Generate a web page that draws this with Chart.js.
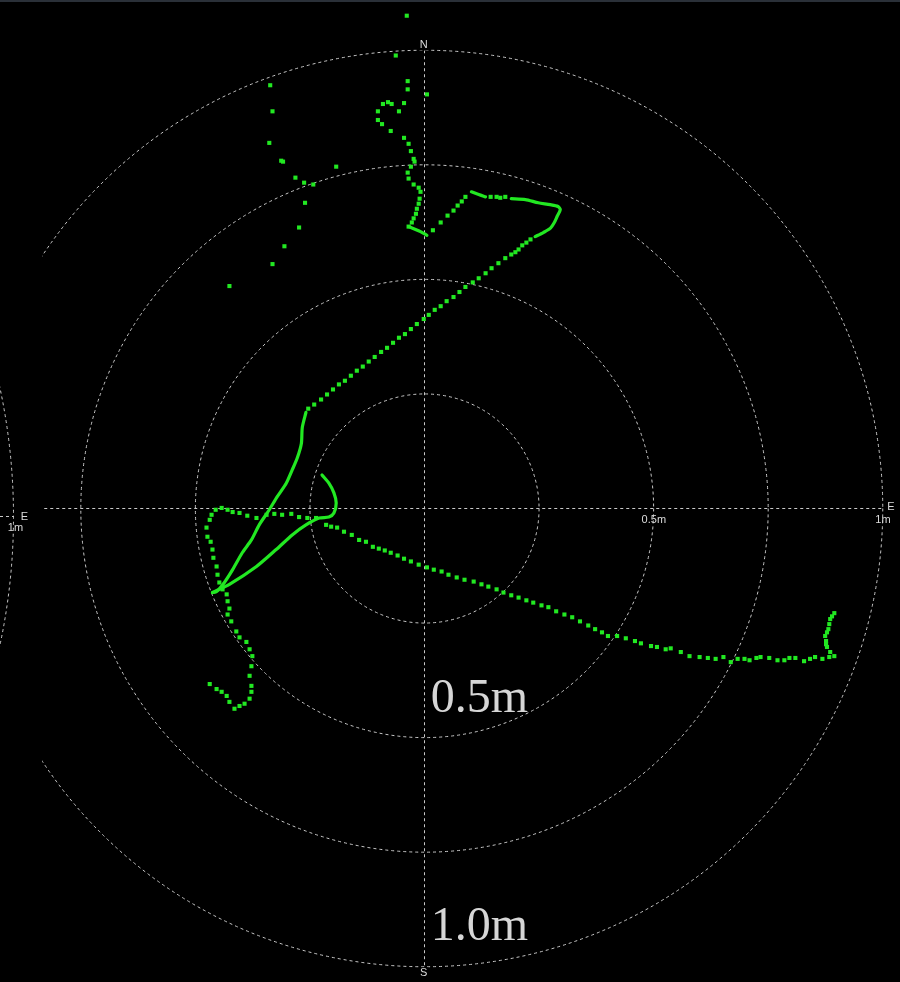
<!DOCTYPE html>
<html>
<head>
<meta charset="utf-8">
<script src="https://cdn.jsdelivr.net/npm/chart.js@4/dist/chart.umd.min.js"></script>
<style>
  html, body { margin: 0; padding: 0; background: #000; overflow: hidden; }
  canvas { display: block; }
</style>
</head>
<body>
<canvas id="radar" width="900" height="982"></canvas>
<script>
// Positions in centimetres: x = east offset, y = north offset from the antenna.

// Range rings (cm) and their labels
const ringRadii = [25, 50, 75, 100];
const axisTickValues = [50, 100];
const axisTickLabels = ['0.5m', '1m'];
const ringCaptionValues = [50, 100];
const ringCaptions = ['0.5m', '1.0m'];
const compassLabels = { north: 'N', south: 'S', east: 'E' };

// Isolated fixes scattered north-west
const strayFixes = [
  [-3.7, 107.6], [-6.1, 98.9], [0.7, 90.4], [-33.5, 92.4], [-33.0, 86.7],
  [-33.7, 79.8], [-31.1, 75.9], [-30.7, 75.7], [-28.0, 72.2], [-26.1, 71.1],
  [-24.1, 70.7], [-19.1, 74.6], [-25.9, 66.7], [-27.2, 61.3], [-30.4, 57.2],
  [-33.0, 53.3], [-42.4, 48.5]
];

// Northern wander along the N axis
const northLeg = [
  [-3.5, 93.3], [-3.5, 91.5], [-8.9, 88.3], [-7.8, 88.7], [-7.0, 88.3], [-4.3, 88.5],
  [-10.0, 86.7], [-5.4, 86.7], [-10.0, 84.8], [-9.1, 83.9], [-7.2, 82.4], [-4.3, 80.9],
  [-3.3, 79.6], [-2.8, 78.0], [-2.2, 76.3], [-2.0, 75.7], [-2.8, 74.6], [-3.5, 73.3],
  [-3.3, 72.0], [-2.2, 70.7], [-1.1, 70.0], [-0.7, 69.1], [-0.9, 67.6], [-1.1, 66.5],
  [-1.5, 65.4], [-1.7, 64.3], [-2.2, 63.3], [-2.6, 62.4], [-3.3, 61.5],
  [2.0, 60.7], [3.7, 62.4], [5.2, 63.9], [6.5, 65.0], [7.4, 66.1], [8.3, 67.0], [9.1, 68.0],
  [14.6, 68.0], [15.9, 68.0], [16.7, 67.8], [17.8, 68.0]
];

// Return leg from the north-east loop, heading south-west
const diagonalLeg = [
  [23.3, 58.7], [22.4, 58.0], [21.5, 57.4], [20.7, 56.5], [20.0, 55.9], [19.1, 55.4],
  [17.8, 54.6], [16.3, 53.5], [14.8, 52.4], [13.5, 51.3], [12.0, 50.2], [10.7, 49.3],
  [9.1, 48.3], [7.8, 47.2], [6.5, 46.1], [5.0, 45.2], [3.7, 44.1], [2.4, 43.3],
  [1.1, 42.2], [0.0, 41.3], [-1.5, 40.2], [-2.8, 39.1], [-4.1, 38.0], [-5.4, 37.2],
  [-6.7, 36.1], [-8.0, 35.0], [-9.3, 34.1], [-10.7, 33.0], [-12.0, 32.0], [-13.3, 30.9],
  [-14.6, 30.0], [-15.9, 28.9], [-17.2, 27.8], [-18.5, 27.0], [-19.8, 25.9], [-21.1, 24.8],
  [-22.4, 23.7], [-23.9, 22.6], [-25.2, 21.7]
];

// Western loop
const loopLeg = [
  [-45.4, -0.4], [-44.1, 0.0], [-42.8, -0.4], [-41.7, -0.9], [-40.2, -1.1], [-38.5, -1.7],
  [-36.5, -2.2], [-34.3, -1.5], [-32.6, -1.3], [-30.9, -1.5], [-28.9, -1.3], [-27.2, -2.0],
  [-25.4, -2.2], [-23.5, -2.2], [-21.3, -3.7], [-20.2, -4.1], [-18.9, -4.3], [-17.4, -5.2],
  [-15.7, -5.9], [-14.1, -7.0], [-12.6, -7.4],
  [-46.3, -1.5], [-46.7, -2.6], [-47.4, -4.3], [-47.2, -6.3], [-46.5, -7.4], [-46.1, -9.1],
  [-45.9, -10.9], [-45.2, -12.8], [-45.0, -14.6], [-44.6, -16.3], [-43.9, -17.8], [-43.0, -18.9]
];

// South-western tail
const southWestTail = [
  [-42.8, -20.4], [-42.4, -22.0], [-42.8, -23.3], [-42.0, -24.8], [-40.9, -27.0], [-40.2, -28.3],
  [-38.7, -29.3], [-38.0, -30.9], [-37.4, -32.4], [-37.6, -34.6], [-38.0, -36.7], [-37.6, -38.9],
  [-37.6, -40.2], [-38.0, -41.7], [-39.1, -42.8], [-40.2, -43.3], [-41.3, -43.9], [-42.4, -42.4],
  [-43.0, -41.1], [-44.1, -40.2], [-45.2, -39.6], [-46.7, -38.5]
];

// Long trail to the south-east
const eastTrail = [
  [-11.1, -8.5], [-9.8, -8.9], [-8.5, -9.3], [-7.2, -9.8], [-5.7, -10.4], [-4.3, -11.1],
  [-2.8, -11.7], [-1.1, -12.4], [0.7, -13.0], [2.2, -13.5], [3.9, -13.9], [5.4, -14.6],
  [7.2, -15.2], [8.9, -15.7], [10.9, -16.1], [12.6, -16.7], [14.1, -17.2], [15.9, -17.8],
  [17.4, -18.5], [19.1, -19.1], [20.7, -19.6], [22.4, -20.2], [23.9, -20.7], [25.7, -21.3],
  [27.2, -21.7], [28.9, -22.6], [30.7, -23.3], [32.4, -23.9], [34.1, -24.8], [35.9, -25.7],
  [37.4, -26.5], [38.9, -27.2], [40.2, -28.0], [42.2, -28.0], [44.1, -28.5], [46.1, -29.1],
  [47.4, -29.6], [49.6, -30.2], [50.9, -30.4], [52.8, -30.9], [53.9, -30.7], [56.1, -31.5],
  [58.0, -32.4], [60.2, -32.6], [62.0, -32.8], [63.7, -33.0], [65.4, -32.6], [67.0, -33.7],
  [68.5, -33.0], [70.0, -33.0], [71.1, -33.3], [72.6, -32.8], [73.5, -32.6], [75.4, -32.8],
  [77.2, -33.3], [78.7, -33.3], [79.8, -32.8], [81.1, -32.8], [83.0, -33.5], [84.3, -33.0],
  [85.4, -32.6], [87.0, -33.0], [88.5, -32.6], [89.6, -32.4], [88.7, -31.5], [88.0, -30.4],
  [87.8, -29.8], [87.8, -29.1], [87.6, -28.0], [88.0, -27.2], [88.3, -26.5], [88.5, -25.4],
  [88.7, -24.3], [89.1, -23.7], [89.6, -23.0]
];

// Densely sampled stretches, drawn as continuous strokes
const northHook = [[-3.3, 61.5], [-0.7, 60.4], [0.7, 59.6]];
const northEastTop = [[10.4, 69.1], [12.0, 68.5], [13.5, 68.0]];
const northEastLoop = [
  [19.1, 67.6], [22.2, 67.4], [25.0, 66.7], [27.6, 66.3], [29.3, 65.9], [29.8, 65.2],
  [29.1, 63.7], [28.5, 62.4], [27.6, 61.1], [26.1, 60.2], [24.3, 59.3]
];
const westCurve = [
  [-25.7, 20.9], [-26.5, 17.6], [-26.7, 14.1], [-27.6, 10.9], [-28.7, 8.3], [-30.0, 5.4],
  [-32.0, 2.4], [-33.7, -0.4], [-35.9, -3.7], [-37.6, -7.0], [-39.6, -9.8], [-41.7, -13.5],
  [-43.5, -16.3], [-45.2, -18.3], [-46.1, -18.5]
];
const returnStroke = [
  [-46.1, -18.5], [-42.4, -16.7], [-36.5, -12.8], [-32.2, -9.1], [-28.7, -5.9], [-25.7, -3.7],
  [-22.8, -2.2], [-20.7, -2.0], [-19.6, -1.1], [-19.1, 1.1], [-19.6, 3.3], [-20.7, 5.4], [-22.2, 7.2]
];

// Visible window (cm)
const view = { xMin: -83.3, xMax: 103.3, yMin: -103.0, yMax: 110.4 };

const TRACK_GREEN = 'rgb(34,232,34)';
const GRID_GREY = '#c9c9c9';
const LABEL_GREY = '#dcdcdc';

const toPoints = arr => arr.map(([x, y]) => ({ x, y }));

const dotSet = (label, arr) => ({
  label, data: toPoints(arr), showLine: false,
  pointStyle: 'rect', pointRadius: 2.9, pointHoverRadius: 2.9,
  backgroundColor: TRACK_GREEN, borderColor: TRACK_GREEN, borderWidth: 0
});
const strokeSet = (label, arr) => ({
  label, data: toPoints(arr), showLine: true, tension: 0.25,
  borderColor: TRACK_GREEN, borderWidth: 3.2, pointRadius: 0,
  borderCapStyle: 'round', borderJoinStyle: 'round'
});

const radarGrid = {
  id: 'radarGrid',
  beforeDraw(chart) {
    const { ctx, width, height } = chart;
    ctx.save();
    ctx.fillStyle = '#000';
    ctx.fillRect(0, 0, width, height);
    ctx.fillStyle = '#2a3038';
    ctx.fillRect(0, 0, width, 2);
    ctx.restore();
  },
  beforeDatasetsDraw(chart) {
    const { ctx, chartArea: a, scales: { x, y } } = chart;
    const cx = Math.round(x.getPixelForValue(0)) + 0.5;
    const cy = Math.round(y.getPixelForValue(0)) + 0.5;
    const k = x.getPixelForValue(1) - x.getPixelForValue(0);
    const outer = ringRadii[ringRadii.length - 1] * k;
    ctx.save();
    ctx.beginPath();
    ctx.rect(a.left, a.top, a.right - a.left, a.bottom - a.top);
    ctx.clip();
    ctx.strokeStyle = GRID_GREY;
    ctx.lineWidth = 1;
    ctx.setLineDash([3, 3]);
    ringRadii.forEach(r => {
      ctx.beginPath();
      ctx.arc(cx, cy, r * k, 0, Math.PI * 2);
      ctx.stroke();
    });
    ctx.beginPath();
    ctx.moveTo(cx - outer, cy); ctx.lineTo(cx + outer, cy);
    ctx.moveTo(cx, cy - outer); ctx.lineTo(cx, cy + outer);
    ctx.stroke();
    ctx.restore();

    // edge of the neighbouring display to the west
    ctx.save();
    ctx.beginPath();
    ctx.rect(0, 0, a.left - 1, chart.height);
    ctx.clip();
    ctx.strokeStyle = GRID_GREY;
    ctx.lineWidth = 1;
    ctx.setLineDash([3, 3]);
    const nRight = 13.5, nY = cy + 8, nR = 617;
    ctx.beginPath();
    ctx.arc(nRight - nR, nY, nR, -0.4, 0.4);
    ctx.stroke();
    ctx.beginPath();
    ctx.moveTo(0, nY); ctx.lineTo(nRight, nY);
    ctx.stroke();
    ctx.restore();
    ctx.save();
    ctx.fillStyle = LABEL_GREY;
    ctx.font = '11px "Liberation Sans", Arial, sans-serif';
    ctx.textAlign = 'center';
    ctx.textBaseline = 'middle';
    ctx.fillText(compassLabels.east, nRight + 11, nY);
    ctx.fillText(axisTickLabels[1], nRight + 2, nY + 11);
    ctx.restore();
  },
  afterDraw(chart) {
    const { ctx, scales: { x, y } } = chart;
    const cx = x.getPixelForValue(0);
    const cy = y.getPixelForValue(0);
    ctx.save();
    ctx.font = '11px "Liberation Sans", Arial, sans-serif';
    ctx.textAlign = 'center';
    ctx.textBaseline = 'middle';
    const boxed = (txt, px, py) => {
      const w = ctx.measureText(txt).width + 2;
      ctx.fillStyle = '#000';
      ctx.fillRect(px - w / 2, py - 6, w, 12);
      ctx.fillStyle = LABEL_GREY;
      ctx.fillText(txt, px, py);
    };
    const top = y.getPixelForValue(ringRadii[ringRadii.length - 1]);
    const bottom = y.getPixelForValue(-ringRadii[ringRadii.length - 1]);
    const right = x.getPixelForValue(ringRadii[ringRadii.length - 1]);
    boxed(compassLabels.north, cx, top - 6);
    boxed(compassLabels.south, cx, bottom + 8);
    ctx.fillStyle = LABEL_GREY;
    ctx.fillText(compassLabels.east, right + 9, cy - 1);
    axisTickValues.forEach((v, i) => {
      ctx.fillText(axisTickLabels[i], x.getPixelForValue(v) + 1, cy + 12);
    });

    // large ring captions
    ctx.font = '48px "Liberation Serif", "Times New Roman", serif';
    ctx.textAlign = 'left';
    ctx.textBaseline = 'alphabetic';
    ctx.fillStyle = '#d6d6d6';
    ringCaptionValues.forEach((v, i) => {
      ctx.fillText(ringCaptions[i], cx + 7, y.getPixelForValue(-v) - 25);
    });
    ctx.restore();
  }
};

new Chart(document.getElementById('radar'), {
  type: 'scatter',
  data: {
    datasets: [
      strokeSet('northHook', northHook),
      strokeSet('northEastTop', northEastTop),
      strokeSet('northEastLoop', northEastLoop),
      strokeSet('westCurve', westCurve),
      strokeSet('returnStroke', returnStroke),
      dotSet('strayFixes', strayFixes),
      dotSet('northLeg', northLeg),
      dotSet('diagonalLeg', diagonalLeg),
      dotSet('loopLeg', loopLeg),
      dotSet('southWestTail', southWestTail),
      dotSet('eastTrail', eastTrail)
    ]
  },
  options: {
    responsive: false,
    maintainAspectRatio: false,
    animation: false,
    layout: { padding: { left: 42, right: 0, top: 0, bottom: 0 } },
    plugins: { legend: { display: false }, tooltip: { enabled: false } },
    scales: {
      x: { type: 'linear', min: view.xMin, max: view.xMax, display: false },
      y: { type: 'linear', min: view.yMin, max: view.yMax, display: false }
    }
  },
  plugins: [radarGrid]
});
</script>
</body>
</html>
